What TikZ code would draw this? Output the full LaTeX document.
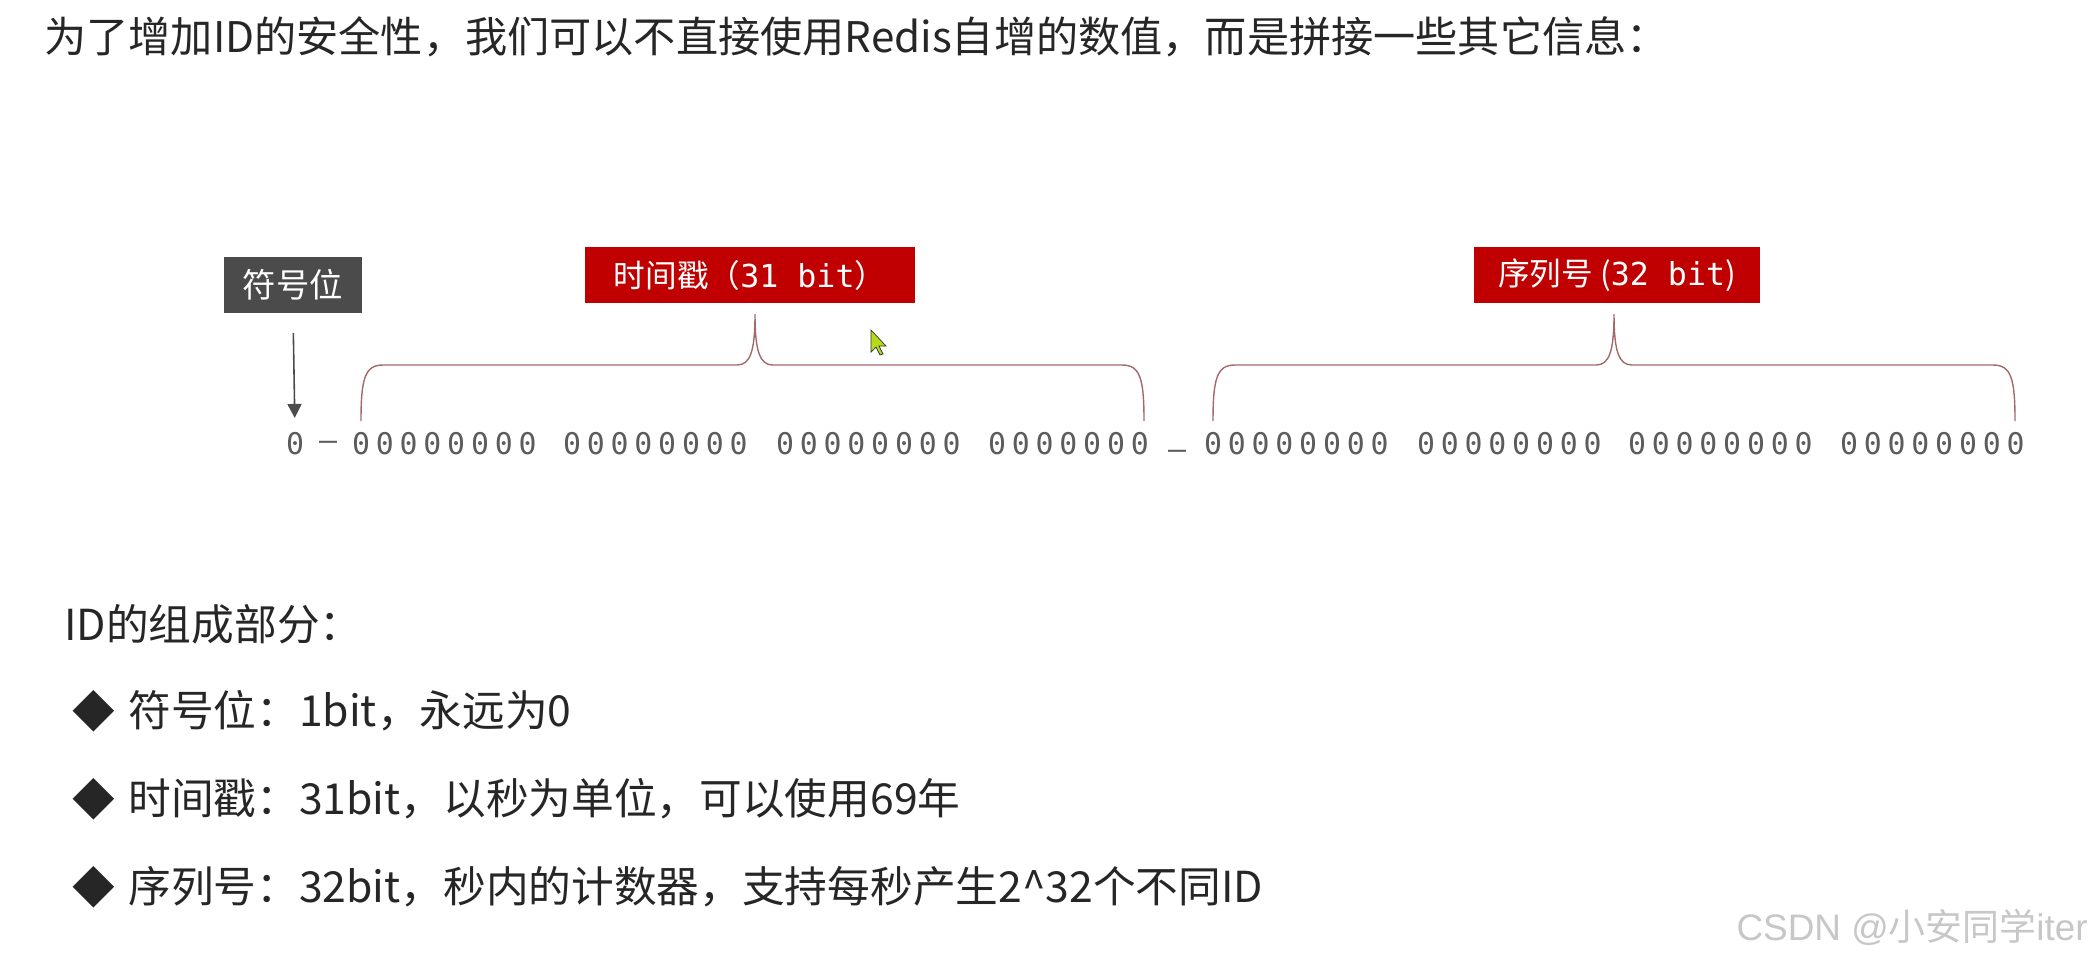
\documentclass[tikz,border=0pt]{standalone}
\usepackage{fontspec}
\usetikzlibrary{arrows.meta}
\newfontfamily\cjk{Noto Sans CJK SC}
\newfontfamily\bitfont{DejaVu Sans Mono}
\newfontfamily\wmlatin{Liberation Sans}
\definecolor{tagred}{HTML}{C00000}
\definecolor{taggray}{HTML}{4B4B4B}
\definecolor{bracered}{HTML}{A36A6A}
\definecolor{bitgray}{HTML}{5C5C5C}
\begin{document}
\begin{tikzpicture}[x=0.02cm, y=-0.02cm]
    \tikzset{
        line/.style={anchor=west, inner sep=0, text=black!85, font=\cjk\fontsize{24.3}{28}\selectfont},
        tag/.style={text=white, inner sep=0, minimum height=1.12cm, font=\cjk\fontsize{18}{20}\selectfont},
        bit/.style={anchor=base, inner sep=0, text=bitgray, font=\bitfont\fontsize{17}{18}\selectfont},
        brace/.style={draw=bracered, line width=0.8pt},
        pointer/.style={draw=black!70, line width=0.9pt, -{Triangle[length=8pt, width=8pt]}}
    }
    \useasboundingbox[fill=white] (0,0) rectangle (2095,968);

    \node[line, font=\cjk\fontsize{24}{28}\selectfont] (title) at (44,37) {为了增加ID的安全性，我们可以不直接使用Redis自增的数值，而是拼接一些其它信息：};

    % labels above the bits
    \node[tag, fill=taggray, minimum width=2.78cm, font=\cjk\fontsize{19}{20}\selectfont] (sgn) at (293,284.5) {符号位};
    \node[tag, fill=tagred, minimum width=6.6cm] (ts) at (750,275) {时间戳（{\bitfont 31 bit}）};
    \node[tag, fill=tagred, minimum width=5.74cm] (seq) at (1617,275) {序列号 ({\bitfont 32 bit})};

    % the bits
    \node[bit] (b0) at (295,454) {0};
    \node[bit] (dash1) at (328,450) {–};
    \node[bit] (dash2) at (1177,459) {–};
    \foreach \g/\gx/\n in {1/361/8, 2/572/8, 3/785/8, 4/997/7, 5/1213/8, 6/1426/8, 7/1637/8, 8/1849/8}{
        \foreach \k in {1,...,\n}{
            \node[bit] (b\g-\k) at ({\gx+(\k-1)*23.8},454) {0};
        }
    }

    \draw[pointer, shorten <=0.4cm, shorten >=0.27cm] (sgn.south) -- (b0.north);

    \foreach \l/\t/\r in {361/755/1144, 1213/1614/2015}{
        \draw[brace] (\l,421) .. controls (\l,378) and ({\l+4},365) .. ({\l+22},365) -- ({\t-18},365)
            .. controls ({\t-5},365) and (\t,352) .. (\t,314)
            .. controls (\t,352) and ({\t+5},365) .. ({\t+18},365) -- ({\r-22},365)
            .. controls ({\r-4},365) and (\r,378) .. (\r,421);
    }

    % mouse pointer
    \draw[fill=yellow!70!green, draw=black!80, line width=0.4pt] (871,330) -- (871,352) -- (876,347) -- (880,355) -- (883,354) -- (879,346) -- (886,346) -- cycle;

    \node[line] (head) at (64,624) {ID的组成部分：};
    \node[line] (m1) at (72,711) {◆};
    \node[line] (t1) at (128,711) {符号位：1bit，永远为0};
    \node[line] (m2) at (72,799) {◆};
    \node[line] (t2) at (128,799) {时间戳：31bit，以秒为单位，可以使用69年};
    \node[line] (m3) at (72,887) {◆};
    \node[line] (t3) at (128,887) {序列号：32bit，秒内的计数器，支持每秒产生2\^{}32个不同ID};

    \node[anchor=east, inner sep=0, text=black!22, font=\cjk\fontsize{21}{24}\selectfont] (wm) at (2088,927) {{\wmlatin CSDN @}小安同学{\wmlatin iter}};
\end{tikzpicture}
\end{document}
